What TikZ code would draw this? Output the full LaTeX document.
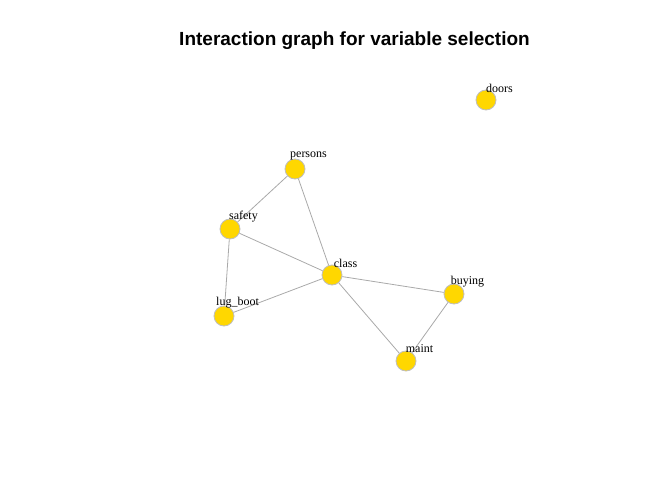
\documentclass[tikz,border=0pt]{standalone}
\usepackage{fontspec}
\setmainfont{Liberation Serif}
\newfontfamily\titlefont{Liberation Sans}
\begin{document}
\begin{tikzpicture}[x=1pt,y=1pt,
  vert/.style={circle,fill={rgb,255:red,255;green,215;blue,0},draw={rgb,255:red,190;green,190;blue,190},line width=0.8pt,minimum size=20pt,inner sep=0pt},
  lab/.style={font=\fontsize{12}{12}\selectfont,inner sep=0pt,anchor=center},
  edge/.style={draw={rgb,255:red,169;green,169;blue,169},line width=0.8pt}]
\useasboundingbox (0,0) rectangle (672,480);
\node[font=\titlefont\bfseries\fontsize{19}{20}\selectfont] (title) at (354.5,439) {Interaction graph for variable selection};
\node[vert] (doors) at (486,380) {};
\node[vert] (persons) at (295,311) {};
\node[vert] (safety) at (230,251) {};
\node[vert] (class) at (332,205) {};
\node[vert] (lugboot) at (224,164) {};
\node[vert] (buying) at (454,186) {};
\node[vert] (maint) at (406,119) {};
\draw[edge] (persons) -- (safety);
\draw[edge] (persons) -- (class);
\draw[edge] (safety) -- (class);
\draw[edge] (safety) -- (lugboot);
\draw[edge] (lugboot) -- (class);
\draw[edge] (class) -- (buying);
\draw[edge] (class) -- (maint);
\draw[edge] (buying) -- (maint);
\node[lab] (ldoors) at ([shift={(13.5,12)}]doors.center) {doors};
\node[lab] (lpersons) at ([shift={(13.5,13.5)}]persons.center) {persons};
\node[lab] (lsafety) at ([shift={(13.5,12.5)}]safety.center) {safety};
\node[lab] (lclass) at ([shift={(13.5,12)}]class.center) {class};
\node[lab] (llugboot) at ([shift={(13.5,13.5)}]lugboot.center) {lug\_boot};
\node[lab] (lbuying) at ([shift={(13.5,12.5)}]buying.center) {buying};
\node[lab] (lmaint) at ([shift={(13.5,12)}]maint.center) {maint};
\end{tikzpicture}
\end{document}
